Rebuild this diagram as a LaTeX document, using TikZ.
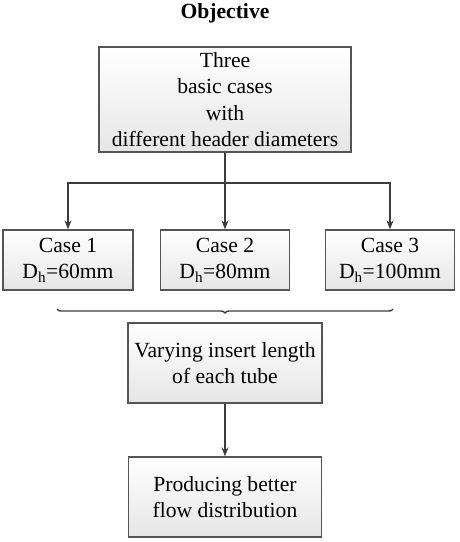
\documentclass[tikz,border=0pt]{standalone}
\usepackage{fontspec}
\setmainfont{Liberation Serif}
\definecolor{bxline}{RGB}{85,85,85}
\definecolor{bxshade}{RGB}{230,230,230}
\definecolor{arline}{RGB}{60,60,60}
\usetikzlibrary{arrows.meta,positioning,decorations.pathreplacing}

\begin{document}
\begin{tikzpicture}[x=1pt, y=-1pt,
        box/.style={rectangle, draw=bxline, line width=1.3pt, align=center,
          top color=white, bottom color=bxshade, inner sep=2pt,
          font=\fontsize{21.6}{26.5}\selectfont},
        arrow/.style={-{Stealth[length=9pt, width=7pt]}, line width=1.3pt, arline}
      ]
        \useasboundingbox (0,0) rectangle (459,542);
        \node[font=\fontsize{21.6}{26}\selectfont\bfseries] (title) at (225,13) {Objective};
        \node[box, minimum width=252pt, minimum height=105pt] (top) at (225,99.5)
          {Three\\basic cases\\with\\different header diameters};
        \node[box, minimum width=130pt, minimum height=60pt] (c1) at (68,260) {Case 1\\D\textsubscript{h}=60mm};
        \node[box, minimum width=129pt, minimum height=60pt] (c2) at (225,260) {Case 2\\D\textsubscript{h}=80mm};
        \node[box, minimum width=129pt, minimum height=60pt] (c3) at (390,260) {Case 3\\D\textsubscript{h}=100mm};
        \node[box, minimum width=194pt, minimum height=80pt] (vary) at (225,363) {Varying insert length\\of each tube};
        \node[box, minimum width=193pt, minimum height=80pt] (prod) at (225,497) {Producing better\\flow distribution};
        \coordinate (split) at (225,183);

        \draw[arrow] (top.south)  -- (c2.north);
        \draw[arrow] (split) -| (c1.north);
        \draw[arrow] (split) -| (c3.north);
        \draw[line width=1.4pt, arline, decorate, decoration={brace, mirror, amplitude=4pt}]
          (57,309) -- (393,309);
        \draw[arrow] (vary.south) -- (prod.north);
      \end{tikzpicture}
\end{document}
